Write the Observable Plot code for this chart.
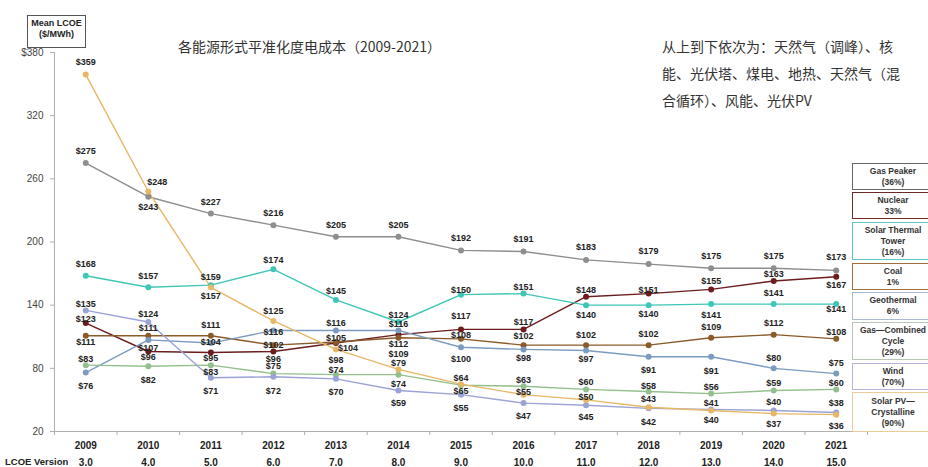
<!DOCTYPE html>
<html><head><meta charset="utf-8">
<script src="https://cdn.jsdelivr.net/npm/d3@7"></script>
<script src="https://cdn.jsdelivr.net/npm/@observablehq/plot@0.6"></script>
<style>
body{margin:0;background:#fff;font-family:"Liberation Sans",Arial,sans-serif;}
#wrap{position:relative;width:928px;height:467px;overflow:hidden;}
#wrap svg{position:absolute;left:0;top:0;}
.abs{position:absolute;}
#ylab{left:27px;top:15px;width:57px;height:29px;border:1px solid #555;font-weight:bold;font-size:9px;line-height:11px;text-align:center;color:#222;padding-top:2px;box-sizing:content-box;background:#fff;}
#title{left:178px;top:36px;font-family:"Noto Sans CJK SC",sans-serif;font-size:14px;line-height:20px;color:#333;white-space:nowrap;}
#note{left:662px;top:33px;font-family:"Noto Sans CJK SC",sans-serif;font-size:14px;line-height:27px;color:#333;white-space:nowrap;}
#ver{left:5px;top:456px;font-weight:bold;font-size:9.5px;color:#222;white-space:nowrap;}
.lg{position:absolute;left:852px;width:82px;box-sizing:border-box;border:1.5px solid #999;background:#fff;font-weight:bold;font-size:8.5px;line-height:11px;color:#333;text-align:center;display:flex;flex-direction:column;justify-content:center;}
</style></head><body>
<div id="wrap"></div>
<script>
const years = [2009,2010,2011,2012,2013,2014,2015,2016,2017,2018,2019,2020,2021];
const versions = ["3.0","4.0","5.0","6.0","7.0","8.0","9.0","10.0","11.0","12.0","13.0","14.0","15.0"];
const yTicks = [20,80,140,200,260,320,380];

const seriesNames = ["Gas Peaker","Nuclear","Solar Thermal Tower","Coal","Geothermal","Gas—Combined Cycle","Wind","Solar PV—Crystalline"];
const legendLines = [["Gas Peaker","(36%)"],["Nuclear","33%"],["Solar Thermal","Tower","(16%)"],["Coal","1%"],["Geothermal","6%"],["Gas—Combined","Cycle","(29%)"],["Wind","(70%)"],["Solar PV—","Crystalline","(90%)"]];

const gasPeaker   = [275,243,227,216,205,205,192,191,183,179,175,175,173];
const nuclear     = [123,96,95,96,104,112,117,117,148,151,155,163,167];
const solarThermal= [168,157,159,174,145,124,150,151,140,140,141,141,141];
const coal        = [111,111,111,102,105,109,108,102,102,102,109,112,108];
const geothermal  = [76,107,104,116,116,116,100,98,97,91,91,80,75];
const gasCC       = [83,82,83,75,74,74,64,63,60,58,56,59,60];
const wind        = [135,124,71,72,70,59,55,47,45,42,41,40,38];
const solarPV     = [359,248,157,125,98,79,65,55,50,43,40,37,36];
const seriesValues = [gasPeaker,nuclear,solarThermal,coal,geothermal,gasCC,wind,solarPV];

// styling: colours and label offsets (pixels) per series
const colors = ["#8e8e8e","#6b1d1d","#3fc6b6","#8b5a2b","#7b9cc0","#93bf8c","#9aa2d6","#e6b766"];
const legendBorders = ["#666","#6b2a2a","#5cc9c0","#a0703a","#aabbd2","#b8c6b8","#b4b4dc","#ebcc98"];
const labelDy = [
  [-12,10,-11,-12,-12,-12,-12,-12,-13,-13,-12,-12,-13],
  [-4,6,6,8,5,9,-13,-7,-7,-3,-8,-7,8],
  [-12,-11,-8,-9,-9,-7,-5,-6,10,9,11,-11,5],
  [6,-8,-11,0,-4,16,-4,-9,-10,-11,-11,-12,-7],
  [14,8,-1,2,-7,-6,12,9,9,13,14,-10,-10],
  [-6,14,7,-7,-5,9,-7,-6,-7,-5,-6,-7,-6],
  [-6,-8,13,14,13,13,13,13,12,14,-6,-8,-9],
  [-12,-9,9,-10,11,-6,7,-3,-3,-8,10,11,11]
];
const labelDx = [
  [0,0,0,0,0,0,0,0,0,0,0,0,0],
  [0,0,0,0,12,0,0,0,0,0,0,0,0],
  [0,0,0,0,0,0,0,0,0,0,0,0,0],
  [0,0,0,0,0,0,0,0,0,0,0,0,0],
  [0,0,0,0,0,0,0,0,0,0,0,0,0],
  [0,0,0,0,0,0,0,0,0,0,0,0,0],
  [0,0,0,0,0,0,0,0,0,0,0,0,0],
  [0,9,0,0,0,0,0,0,0,0,0,0,0]
];

const rows = [];
seriesNames.forEach((s, si) => years.forEach((yr, i) => rows.push({
  series: s, year: yr, value: seriesValues[si][i], dx: labelDx[si][i], dy: labelDy[si][i]
})));
const boundaries = [years[0] - 0.5, ...years.map(y => y + 0.5)];

const keys = Array.from(new Set(rows.map(d => d.dx + "," + d.dy)));
const labelMarks = keys.map(k => {
  const [dx, dy] = k.split(",").map(Number);
  return Plot.text(rows.filter(d => d.dx + "," + d.dy === k), {
    x: "year", y: "value", text: d => "$" + d.value, dx, dy,
    fontSize: 9, fontWeight: "bold", fill: "#222"
  });
});

const chart = Plot.plot({
  width: 928, height: 467,
  marginLeft: 54, marginRight: 61, marginTop: 52, marginBottom: 36,
  x: {domain: [years[0] - 0.5, years[years.length - 1] + 0.5], label: null},
  y: {domain: [yTicks[0], yTicks[yTicks.length - 1]], label: null},
  color: {domain: seriesNames, range: colors},
  style: {fontFamily: "Liberation Sans, Arial, sans-serif", background: "transparent", overflow: "visible"},
  marks: [
    Plot.ruleY([yTicks[0]], {stroke: "#b0b0b0"}),
    Plot.ruleX([boundaries[0]], {stroke: "#b0b0b0"}),
    Plot.axisY({ticks: yTicks, tickSize: 4, tickPadding: 7, stroke: "#b0b0b0", fill: "#444", fontSize: 10,
      tickFormat: d => d === yTicks[yTicks.length - 1] ? "$" + d : String(d), label: null}),
    Plot.axisX({ticks: boundaries, tickSize: 4, stroke: "#b0b0b0", tickFormat: () => "", label: null}),
    Plot.axisX({ticks: years, tickSize: 0, tickPadding: 10, fontSize: 10, fontWeight: "bold", fill: "#222",
      tickFormat: d => String(d), label: null}),
    Plot.axisX({ticks: years, tickSize: 0, tickPadding: 27, fontSize: 10, fontWeight: "bold", fill: "#222",
      tickFormat: d => versions[years.indexOf(d)], label: null}),
    Plot.line(rows, {x: "year", y: "value", z: "series", stroke: "series", strokeWidth: 1.4}),
    Plot.dot(rows, {x: "year", y: "value", fill: "series", r: 3}),
    ...labelMarks
  ]
});

const wrap = document.getElementById("wrap");
wrap.appendChild(chart);

function addDiv(id, cls, html) {
  const d = document.createElement("div");
  if (id) d.id = id;
  d.className = cls;
  d.innerHTML = html;
  wrap.appendChild(d);
  return d;
}
addDiv("ylab", "abs", "Mean LCOE<br>($/MWh)");
addDiv("title", "abs", "各能源形式平准化度电成本（2009-2021）");
addDiv("note", "abs", "从上到下依次为：天然气（调峰）、核<br>能、光伏塔、煤电、地热、天然气（混<br>合循环）、风能、光伏PV");
addDiv("ver", "abs", "LCOE Version");

const legendTops = [163,192,222,263,292,322,363,392];
const legendBottoms = [190,219,260,290,320,360,390,432];
legendLines.forEach((lines, i) => {
  const d = addDiv(null, "lg", lines.join("<br>"));
  d.style.top = legendTops[i] + "px";
  d.style.height = (legendBottoms[i] - legendTops[i]) + "px";
  d.style.borderColor = legendBorders[i];
});
</script>
</body></html>
